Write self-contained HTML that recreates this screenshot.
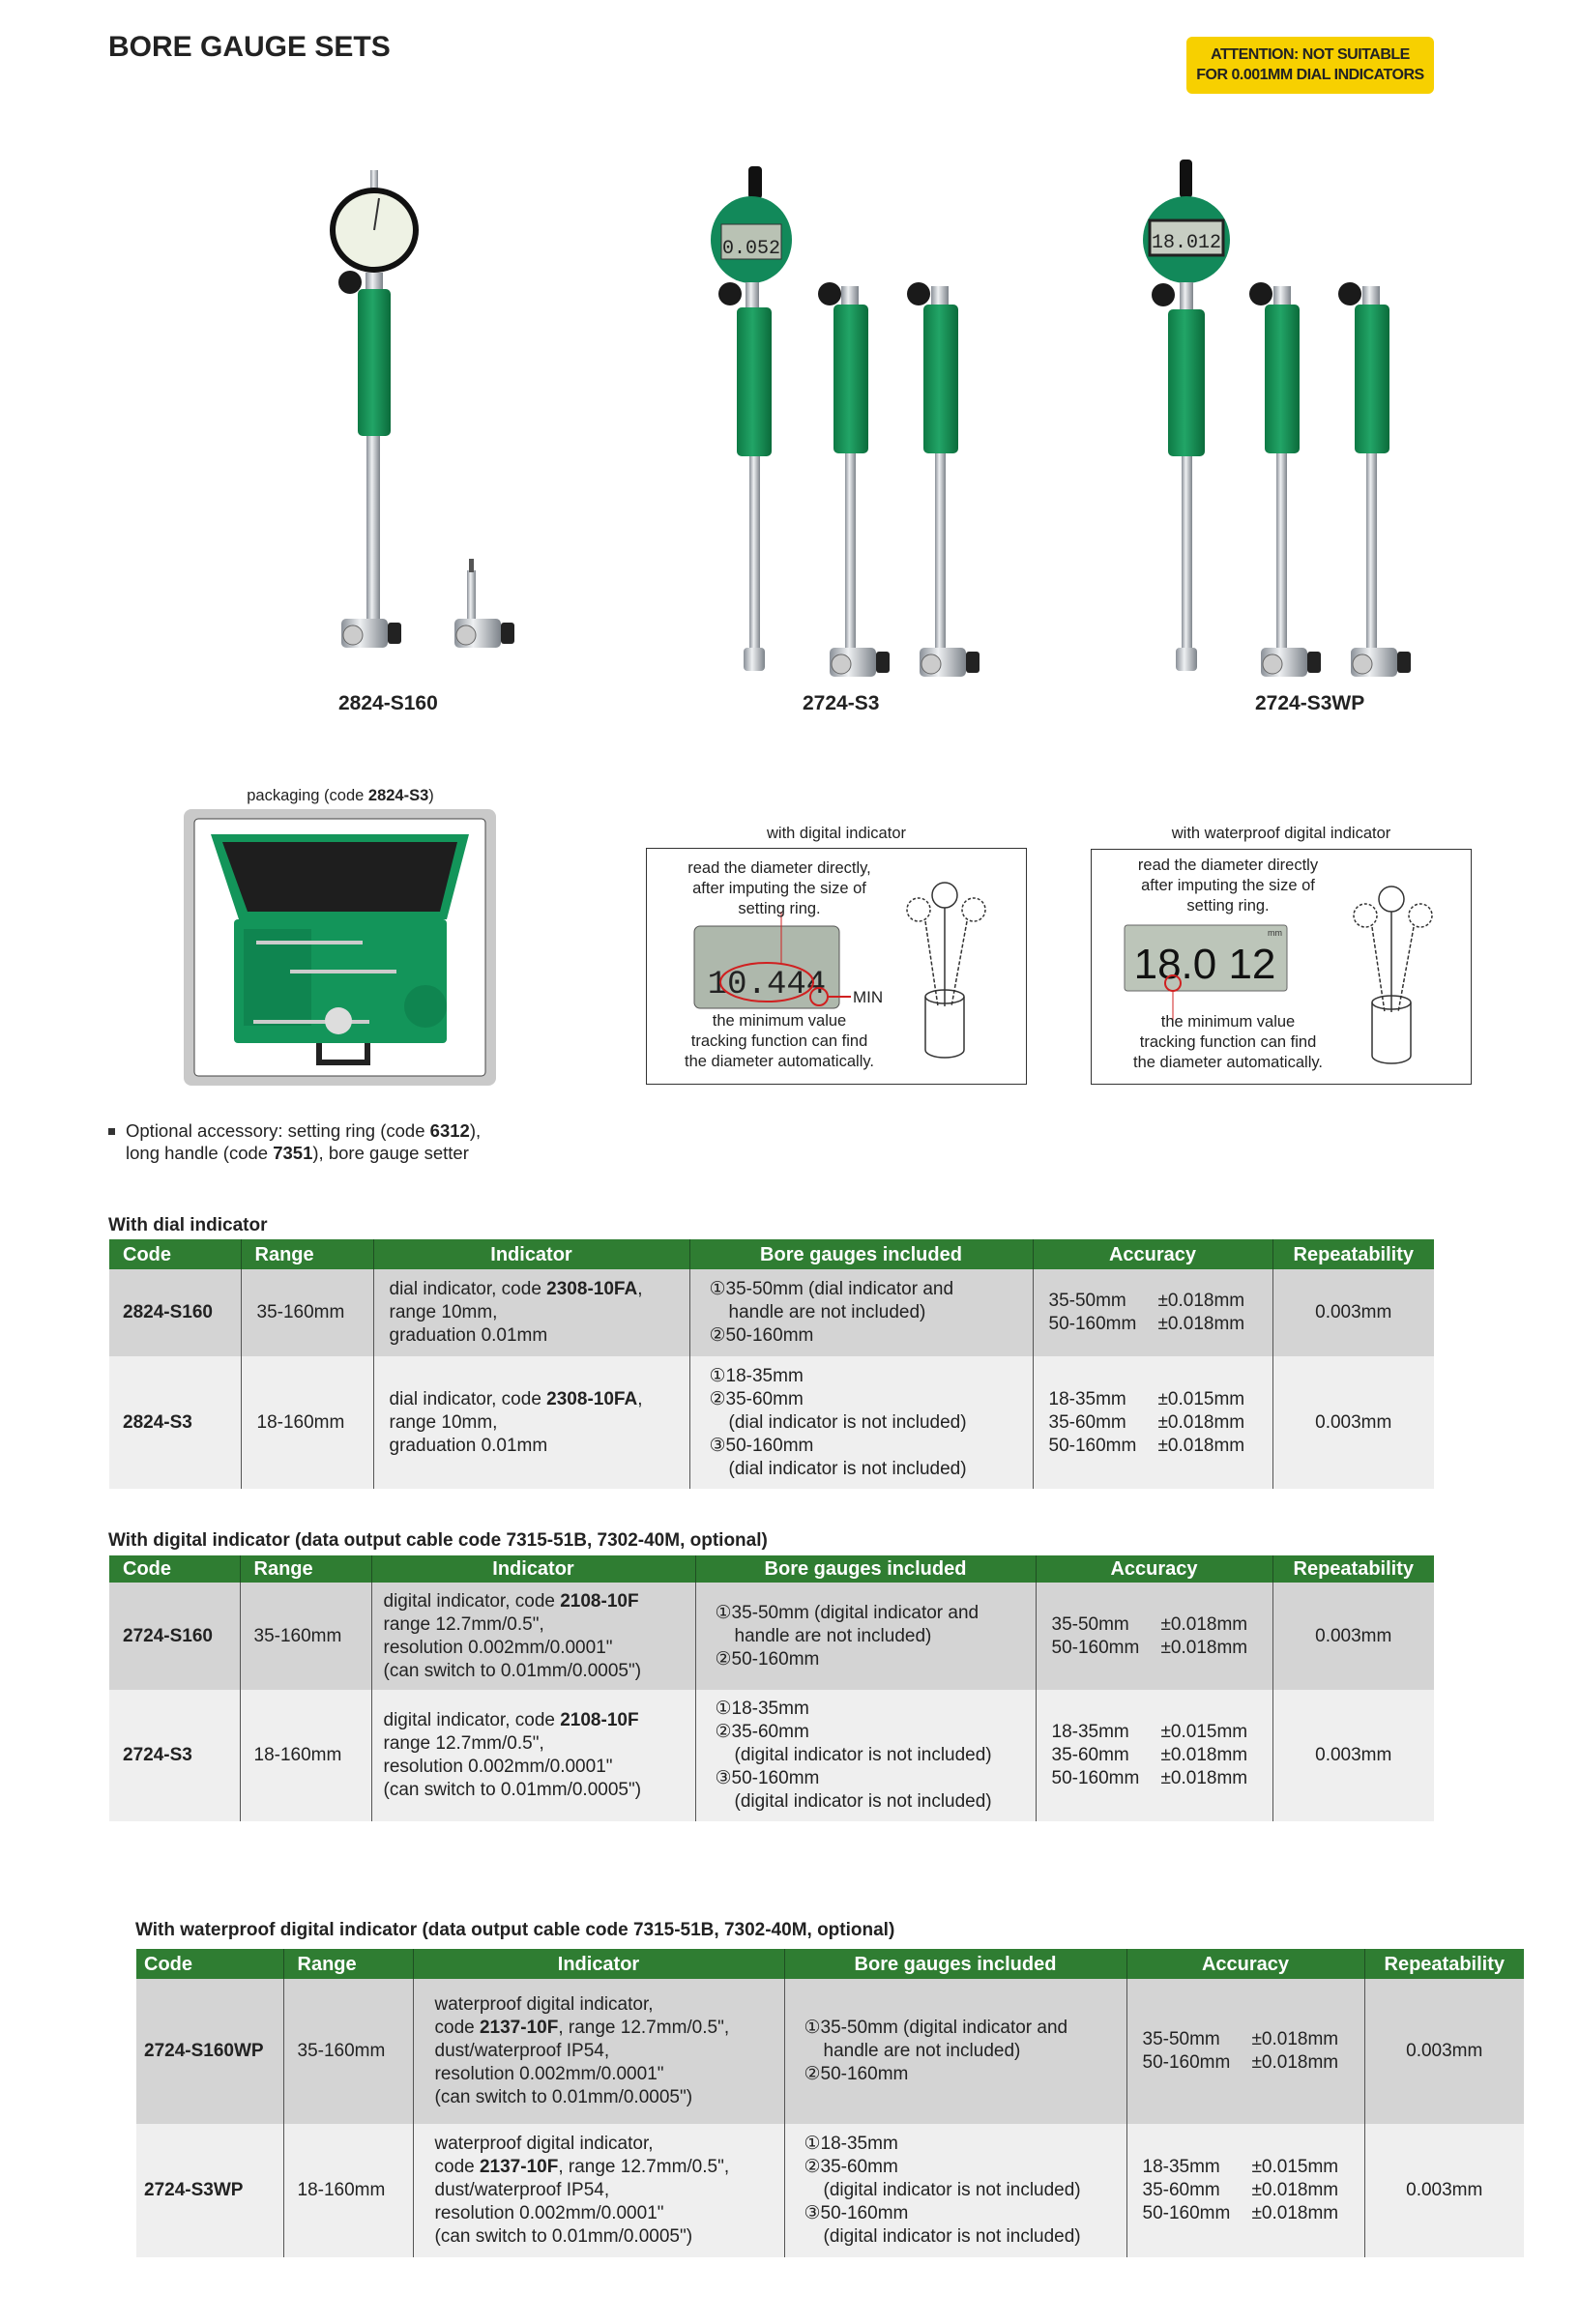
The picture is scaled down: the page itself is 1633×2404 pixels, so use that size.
<!DOCTYPE html>
<html><head><meta charset="utf-8">
<style>
*{margin:0;padding:0;box-sizing:border-box}
body{width:1633px;height:2404px;background:#fff;position:relative;font-family:"Liberation Sans","DejaVu Sans",sans-serif;color:#222;overflow:hidden}
.a{position:absolute}
.t{position:absolute;font-size:19px;line-height:24px;white-space:nowrap}
table{position:absolute;border-collapse:collapse;table-layout:fixed;font-size:19px;line-height:24px}
th{background:#2f7d32;color:#fff;font-weight:bold;font-size:20px;text-align:center;padding:0;border-left:1px solid #1f4f22;white-space:nowrap}
th:first-child{border-left:none}
th.l{text-align:left;padding-left:14px}
td{vertical-align:middle;padding:0 0 0 16px;border-left:1px solid #555;white-space:nowrap}
td:first-child{border-left:none;font-weight:bold;padding-left:14px}
tr.g td{background:#d4d4d4}
tr.w td{background:#efefef}
td.c{text-align:center;padding:0}
td.b{padding-left:20px}
.h{display:block;padding-left:20px}
.r{display:inline-block;width:113px}
.cap{position:absolute;font-size:16.5px;line-height:21px;text-align:center;white-space:nowrap}
</style></head><body>

<div class="a" style="left:112px;top:32px;font-size:30px;font-weight:bold;color:#222">BORE GAUGE SETS</div>
<div class="a" style="left:1227px;top:38px;width:256px;height:59px;background:#f7d000;border-radius:6px;font-size:16px;font-weight:bold;line-height:21px;text-align:center;padding-top:8px;color:#222;letter-spacing:-0.5px">ATTENTION: NOT SUITABLE<br>FOR 0.001MM DIAL INDICATORS</div>

<svg class="a" style="left:0;top:0" width="1633" height="1140" viewBox="0 0 1633 1140">
<defs>
<linearGradient id="gr" x1="0" x2="1"><stop offset="0" stop-color="#0e7a45"/><stop offset=".45" stop-color="#22a567"/><stop offset="1" stop-color="#0b6b3b"/></linearGradient>
<linearGradient id="sv" x1="0" x2="1"><stop offset="0" stop-color="#8a9098"/><stop offset=".4" stop-color="#eef0f2"/><stop offset="1" stop-color="#7d838a"/></linearGradient>
<g id="foot"><rect x="-22" y="0" width="48" height="30" rx="5" fill="url(#sv)"/><circle cx="-10" cy="17" r="10" fill="#ccc" stroke="#666"/><rect x="26" y="4" width="14" height="22" rx="3" fill="#222"/></g>
</defs>
<!-- gauge 1 -->
<rect x="383" y="176" width="8" height="22" fill="url(#sv)"/>
<ellipse cx="387" cy="238" rx="46" ry="44" fill="#111"/>
<ellipse cx="387" cy="238" rx="40" ry="38" fill="#eef2e4"/>
<line x1="387" y1="238" x2="392" y2="205" stroke="#333" stroke-width="2"/>
<rect x="378" y="282" width="18" height="20" fill="url(#sv)"/>
<circle cx="362" cy="292" r="12" fill="#1a1a1a"/>
<rect x="370" y="299" width="34" height="152" rx="5" fill="url(#gr)"/>
<rect x="379" y="451" width="14" height="192" fill="url(#sv)"/>
<use href="#foot" x="375" y="640"/>
<rect x="483" y="590" width="9" height="52" fill="url(#sv)"/>
<rect x="485" y="578" width="5" height="14" fill="#555"/>
<use href="#foot" x="492" y="640"/>
<!-- gauge 2 -->
<rect x="774" y="172" width="14" height="34" rx="4" fill="#111"/>
<ellipse cx="777" cy="248" rx="42" ry="45" fill="#12895a"/>
<rect x="746" y="232" width="62" height="36" fill="#b9c2b4" stroke="#333"/>
<text x="777" y="262" font-size="20" text-anchor="middle" fill="#222" font-family="Liberation Mono,monospace">0.052</text>
<rect x="771" y="292" width="14" height="26" fill="url(#sv)"/>
<circle cx="755" cy="304" r="12" fill="#1a1a1a"/>
<rect x="762" y="318" width="36" height="154" rx="5" fill="url(#gr)"/>
<rect x="775" y="472" width="11" height="205" fill="url(#sv)"/>
<rect x="769" y="670" width="22" height="24" rx="4" fill="url(#sv)"/>
<g><rect x="870" y="296" width="18" height="22" fill="url(#sv)"/><circle cx="858" cy="304" r="12" fill="#1a1a1a"/>
<rect x="862" y="315" width="36" height="154" rx="5" fill="url(#gr)"/><rect x="874" y="469" width="11" height="205" fill="url(#sv)"/><use href="#foot" x="880" y="670"/></g>
<g><rect x="963" y="296" width="18" height="22" fill="url(#sv)"/><circle cx="950" cy="304" r="12" fill="#1a1a1a"/>
<rect x="955" y="315" width="36" height="154" rx="5" fill="url(#gr)"/><rect x="967" y="469" width="11" height="205" fill="url(#sv)"/><use href="#foot" x="973" y="670"/></g>
<!-- gauge 3 -->
<rect x="1220" y="165" width="13" height="40" rx="4" fill="#111"/>
<ellipse cx="1227" cy="248" rx="45" ry="45" fill="#12895a"/>
<rect x="1189" y="228" width="76" height="36" fill="#c7cec3" stroke="#222" stroke-width="3"/>
<text x="1227" y="256" font-size="20" text-anchor="middle" fill="#222" font-family="Liberation Mono,monospace">18.012</text>
<rect x="1220" y="292" width="14" height="28" fill="url(#sv)"/>
<circle cx="1203" cy="305" r="12" fill="#1a1a1a"/>
<rect x="1208" y="320" width="38" height="152" rx="5" fill="url(#gr)"/>
<rect x="1222" y="472" width="11" height="205" fill="url(#sv)"/>
<rect x="1216" y="670" width="22" height="24" rx="4" fill="url(#sv)"/>
<g><rect x="1317" y="296" width="18" height="22" fill="url(#sv)"/><circle cx="1304" cy="304" r="12" fill="#1a1a1a"/>
<rect x="1308" y="315" width="36" height="154" rx="5" fill="url(#gr)"/><rect x="1320" y="469" width="11" height="205" fill="url(#sv)"/><use href="#foot" x="1326" y="670"/></g>
<g><rect x="1409" y="296" width="18" height="22" fill="url(#sv)"/><circle cx="1396" cy="304" r="12" fill="#1a1a1a"/>
<rect x="1401" y="315" width="36" height="154" rx="5" fill="url(#gr)"/><rect x="1413" y="469" width="11" height="205" fill="url(#sv)"/><use href="#foot" x="1419" y="670"/></g>
<!-- packaging -->
<g transform="translate(0,11)">
<rect x="190" y="826" width="323" height="286" rx="8" fill="#c9c9c9"/>
<rect x="201" y="836" width="301" height="266" rx="4" fill="#fff" stroke="#444"/>
<path d="M218 852 L485 852 L462 940 L247 940 Z" fill="#13955a"/>
<path d="M230 860 L473 860 L455 932 L256 932 Z" fill="#1e1e1e"/>
<rect x="242" y="940" width="220" height="128" rx="4" fill="#13955a"/>
<rect x="252" y="950" width="70" height="100" fill="#0f8550"/>
<rect x="265" y="962" width="110" height="4" fill="#ccc"/><rect x="300" y="992" width="110" height="4" fill="#ccc"/><rect x="262" y="1044" width="120" height="4" fill="#ccc"/>
<circle cx="440" cy="1030" r="22" fill="#0f8550"/><circle cx="350" cy="1045" r="14" fill="#ddd"/>
<path d="M330 1068 v20 h50 v-20" fill="none" stroke="#222" stroke-width="6"/>
</g>
<!-- box contents -->
<g transform="translate(12,11)">
<rect x="706" y="947" width="150" height="85" rx="6" fill="#aeb8ac" stroke="#555"/>
<text x="781" y="1016" font-size="34" text-anchor="middle" fill="#222" font-family="Liberation Mono,monospace">10.444</text>
<ellipse cx="781" cy="1005" rx="48" ry="20" fill="none" stroke="#d02020" stroke-width="2"/>
<circle cx="835" cy="1020" r="9" fill="none" stroke="#d02020" stroke-width="2"/>
<line x1="844" y1="1020" x2="868" y2="1020" stroke="#d02020" stroke-width="2"/>
<line x1="796" y1="932" x2="796" y2="985" stroke="#d02020" stroke-width="1"/>
<text x="870" y="1026" font-size="17" fill="#222" font-family="Liberation Sans,sans-serif">MIN</text>
<g fill="none" stroke="#333" stroke-width="1.5">
<circle cx="965" cy="915" r="13"/><line x1="965" y1="928" x2="965" y2="1030"/>
<circle cx="938" cy="930" r="12" stroke-dasharray="3 2"/><line x1="945" y1="942" x2="958" y2="1030" stroke-dasharray="4 2"/>
<circle cx="995" cy="930" r="12" stroke-dasharray="3 2"/><line x1="988" y1="942" x2="972" y2="1030" stroke-dasharray="4 2"/>
<path d="M945 1020 v55 a20 8 0 0 0 40 0 v-55"/><ellipse cx="965" cy="1020" rx="20" ry="7"/>
</g></g>
<g transform="translate(21,12)">
<rect x="1142" y="945" width="168" height="68" rx="3" fill="#bcc5b9" stroke="#666"/>
<text x="1225" y="1000" font-size="44" text-anchor="middle" fill="#111" font-family="Liberation Sans Narrow,Liberation Sans,sans-serif">18.0 12</text>
<text x="1290" y="956" font-size="9" fill="#333">mm</text>
<circle cx="1192" cy="1005" r="8" fill="none" stroke="#d02020" stroke-width="2"/>
<line x1="1192" y1="1013" x2="1192" y2="1047" stroke="#d02020" stroke-width="1"/>
<g fill="none" stroke="#333" stroke-width="1.5">
<circle cx="1418" cy="918" r="13"/><line x1="1418" y1="931" x2="1418" y2="1035"/>
<circle cx="1391" cy="935" r="12" stroke-dasharray="3 2"/><line x1="1398" y1="947" x2="1411" y2="1035" stroke-dasharray="4 2"/>
<circle cx="1448" cy="935" r="12" stroke-dasharray="3 2"/><line x1="1441" y1="947" x2="1425" y2="1035" stroke-dasharray="4 2"/>
<path d="M1398 1025 v55 a20 8 0 0 0 40 0 v-55"/><ellipse cx="1418" cy="1025" rx="20" ry="7"/>
</g></g>
</svg>

<div class="t" style="left:350px;top:716px;font-weight:bold;font-size:21px">2824-S160</div>
<div class="t" style="left:830px;top:716px;font-weight:bold;font-size:21px">2724-S3</div>
<div class="t" style="left:1298px;top:716px;font-weight:bold;font-size:21px">2724-S3WP</div>

<div class="cap" style="left:232px;top:813px;width:240px">packaging (code <b>2824-S3</b>)</div>
<div class="cap" style="left:745px;top:852px;width:240px">with digital indicator</div>
<div class="cap" style="left:1135px;top:852px;width:380px">with waterproof digital indicator</div>

<div class="a" style="left:668px;top:877px;width:394px;height:245px;border:1px solid #333"></div>
<div class="a" style="left:1128px;top:878px;width:394px;height:244px;border:1px solid #333"></div>
<div class="cap" style="left:675px;top:888px;width:262px">read the diameter directly,<br>after imputing the size of<br>setting ring.</div>
<div class="cap" style="left:675px;top:1046px;width:262px">the minimum value<br>tracking function can find<br>the diameter automatically.</div>
<div class="cap" style="left:1139px;top:885px;width:262px">read the diameter directly<br>after imputing the size of<br>setting ring.</div>
<div class="cap" style="left:1139px;top:1047px;width:262px">the minimum value<br>tracking function can find<br>the diameter automatically.</div>

<div class="a" style="left:112px;top:1167px;width:7px;height:7px;background:#333"></div>
<div class="t" style="left:130px;top:1158px;font-size:18.5px;line-height:23px">Optional accessory: setting ring (code <b>6312</b>),<br>long handle (code <b>7351</b>), bore gauge setter</div>

<div class="t" style="left:112px;top:1256px;font-weight:bold">With dial indicator</div>
<table style="left:113px;top:1282px;width:1370px">
<colgroup><col style="width:136px"><col style="width:137px"><col style="width:327px"><col style="width:355px"><col style="width:248px"><col style="width:167px"></colgroup>
<tr style="height:31px"><th class="l">Code</th><th class="l">Range</th><th>Indicator</th><th>Bore gauges included</th><th>Accuracy</th><th>Repeatability</th></tr>
<tr class="g" style="height:90px"><td>2824-S160</td><td>35-160mm</td><td>dial indicator, code <b>2308-10FA</b>,<br>range 10mm,<br>graduation 0.01mm</td><td class="b">①35-50mm (dial indicator and<span class="h">handle are not included)</span>②50-160mm</td><td><span class="r">35-50mm</span>±0.018mm<br><span class="r">50-160mm</span>±0.018mm</td><td class="c">0.003mm</td></tr>
<tr class="w" style="height:137px"><td>2824-S3</td><td>18-160mm</td><td>dial indicator, code <b>2308-10FA</b>,<br>range 10mm,<br>graduation 0.01mm</td><td class="b">①18-35mm<br>②35-60mm<span class="h">(dial indicator is not included)</span>③50-160mm<span class="h">(dial indicator is not included)</span></td><td><span class="r">18-35mm</span>±0.015mm<br><span class="r">35-60mm</span>±0.018mm<br><span class="r">50-160mm</span>±0.018mm</td><td class="c">0.003mm</td></tr>
</table>

<div class="t" style="left:112px;top:1582px;font-weight:bold">With digital indicator (data output cable code 7315-51B, 7302-40M, optional)</div>
<table style="left:113px;top:1609px;width:1370px">
<colgroup><col style="width:135px"><col style="width:136px"><col style="width:335px"><col style="width:352px"><col style="width:245px"><col style="width:167px"></colgroup>
<tr style="height:28px"><th class="l">Code</th><th class="l">Range</th><th>Indicator</th><th>Bore gauges included</th><th>Accuracy</th><th>Repeatability</th></tr>
<tr class="g" style="height:111px"><td>2724-S160</td><td style="padding-left:14px">35-160mm</td><td style="padding-left:12px">digital indicator, code <b>2108-10F</b><br>range 12.7mm/0.5",<br>resolution 0.002mm/0.0001"<br>(can switch to 0.01mm/0.0005")</td><td class="b">①35-50mm (digital indicator and<span class="h">handle are not included)</span>②50-160mm</td><td><span class="r">35-50mm</span>±0.018mm<br><span class="r">50-160mm</span>±0.018mm</td><td class="c">0.003mm</td></tr>
<tr class="w" style="height:136px"><td>2724-S3</td><td style="padding-left:14px">18-160mm</td><td style="padding-left:12px">digital indicator, code <b>2108-10F</b><br>range 12.7mm/0.5",<br>resolution 0.002mm/0.0001"<br>(can switch to 0.01mm/0.0005")</td><td class="b">①18-35mm<br>②35-60mm<span class="h">(digital indicator is not included)</span>③50-160mm<span class="h">(digital indicator is not included)</span></td><td><span class="r">18-35mm</span>±0.015mm<br><span class="r">35-60mm</span>±0.018mm<br><span class="r">50-160mm</span>±0.018mm</td><td class="c">0.003mm</td></tr>
</table>

<div class="t" style="left:140px;top:1985px;font-weight:bold">With waterproof digital indicator (data output cable code 7315-51B, 7302-40M, optional)</div>
<table style="left:141px;top:2016px;width:1435px">
<colgroup><col style="width:152px"><col style="width:134px"><col style="width:384px"><col style="width:354px"><col style="width:246px"><col style="width:165px"></colgroup>
<tr style="height:31px"><th class="l" style="padding-left:8px">Code</th><th class="l">Range</th><th>Indicator</th><th>Bore gauges included</th><th>Accuracy</th><th>Repeatability</th></tr>
<tr class="g" style="height:150px"><td style="padding-left:8px">2724-S160WP</td><td style="padding-left:14px">35-160mm</td><td style="padding-left:22px">waterproof digital indicator,<br>code <b>2137-10F</b>, range 12.7mm/0.5",<br>dust/waterproof IP54,<br>resolution 0.002mm/0.0001"<br>(can switch to 0.01mm/0.0005")</td><td class="b">①35-50mm (digital indicator and<span class="h">handle are not included)</span>②50-160mm</td><td><span class="r">35-50mm</span>±0.018mm<br><span class="r">50-160mm</span>±0.018mm</td><td class="c">0.003mm</td></tr>
<tr class="w" style="height:138px"><td style="padding-left:8px">2724-S3WP</td><td style="padding-left:14px">18-160mm</td><td style="padding-left:22px">waterproof digital indicator,<br>code <b>2137-10F</b>, range 12.7mm/0.5",<br>dust/waterproof IP54,<br>resolution 0.002mm/0.0001"<br>(can switch to 0.01mm/0.0005")</td><td class="b">①18-35mm<br>②35-60mm<span class="h">(digital indicator is not included)</span>③50-160mm<span class="h">(digital indicator is not included)</span></td><td><span class="r">18-35mm</span>±0.015mm<br><span class="r">35-60mm</span>±0.018mm<br><span class="r">50-160mm</span>±0.018mm</td><td class="c">0.003mm</td></tr>
</table>
</body></html>
